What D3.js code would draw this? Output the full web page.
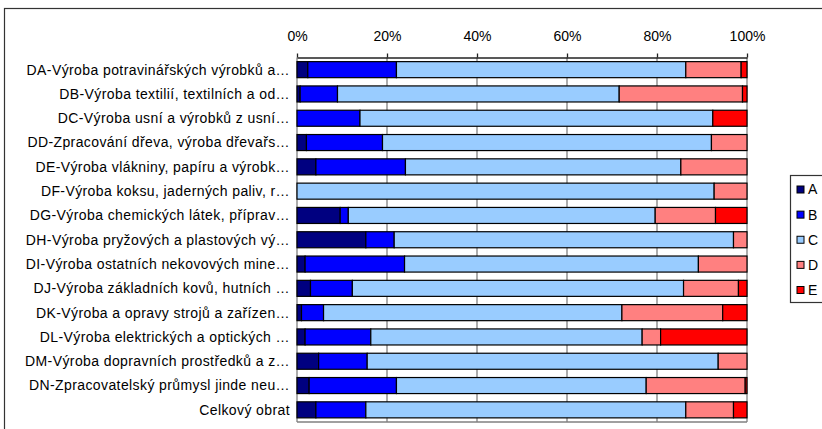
<!DOCTYPE html>
<html>
<head>
<meta charset="utf-8">
<script src="https://cdn.jsdelivr.net/npm/d3@7"></script>
<style>
  html, body { margin: 0; padding: 0; background: #fff; }
  svg { display: block; font-family: "Liberation Sans", Arial, sans-serif; }
</style>
</head>
<body>
<svg id="chart" width="822" height="429"></svg>
<script>
// Odvětví zpracovatelského průmyslu (kategorie)
const categories = [
  "DA-Výroba potravinářských výrobků a…",
  "DB-Výroba textilií, textilních a od…",
  "DC-Výroba usní a výrobků z usní…",
  "DD-Zpracování dřeva, výroba dřevařs…",
  "DE-Výroba vlákniny, papíru a výrobk…",
  "DF-Výroba koksu, jaderných paliv, r…",
  "DG-Výroba chemických látek, příprav…",
  "DH-Výroba pryžových a plastových vý…",
  "DI-Výroba ostatních nekovových mine…",
  "DJ-Výroba základních kovů, hutních …",
  "DK-Výroba a opravy strojů a zařízen…",
  "DL-Výroba elektrických a optických …",
  "DM-Výroba dopravních prostředků a z…",
  "DN-Zpracovatelský průmysl jinde neu…",
  "Celkový obrat"
];

// Podíly skupin A–E (%)
const seriesNames = ["A", "B", "C", "D", "E"];
const valuesA = [2.4, 0.7, 0.0, 2.1, 4.2, 0.0, 9.6, 15.3, 1.8, 3.0, 1.0, 1.8, 4.8, 2.7, 4.2];
const valuesB = [19.7, 8.3, 14.0, 16.9, 19.9, 0.0, 1.8, 6.3, 22.1, 9.3, 4.9, 14.6, 10.8, 19.4, 11.1];
const valuesC = [64.3, 62.6, 78.4, 73.1, 61.2, 92.7, 68.2, 75.4, 65.3, 73.6, 66.3, 60.3, 78.0, 55.5, 71.1];
const valuesD = [12.3, 27.4, 0.0, 7.9, 14.7, 7.3, 13.4, 3.0, 10.8, 12.2, 22.4, 4.1, 6.4, 22.0, 10.6];
const valuesE = [1.3, 1.0, 7.6, 0.0, 0.0, 0.0, 7.0, 0.0, 0.0, 1.9, 5.4, 19.2, 0.0, 0.4, 3.0];

const tickValues = [0, 20, 40, 60, 80, 100];
const tickLabels = ["0%", "20%", "40%", "60%", "80%", "100%"];

const colors = ["#000080", "#0000FF", "#99CCFF", "#FF8080", "#FF0000"];

const seriesValues = [valuesA, valuesB, valuesC, valuesD, valuesE];
const rows = categories.map((c, i) => {
  const r = { category: c };
  seriesNames.forEach((s, k) => { r[s] = seriesValues[k][i]; });
  return r;
});

const svg = d3.select("#chart");

// Vnější rámeček grafu
svg.append("rect")
  .attr("x", 4.5).attr("y", 8.5)
  .attr("width", 830).attr("height", 430)
  .attr("fill", "none")
  .attr("stroke", "#333").attr("stroke-width", 1.2);

const plot = { left: 297, right: 747, top: 57.5, bottom: 422 };

const x = d3.scaleLinear().domain([0, 100]).range([plot.left, plot.right]);
const y = d3.scaleBand().domain(categories).range([plot.top, plot.bottom]).paddingInner(0.34).paddingOuter(0.17);

// Svislé mřížky
svg.append("g").selectAll("line")
  .data(tickValues)
  .join("line")
  .attr("x1", d => x(d)).attr("x2", d => x(d))
  .attr("y1", plot.top).attr("y2", plot.bottom)
  .attr("stroke", "#808080").attr("stroke-width", 1.3);

// Spodní okraj oblasti grafu
svg.append("line")
  .attr("x1", plot.left).attr("x2", plot.right)
  .attr("y1", plot.bottom).attr("y2", plot.bottom)
  .attr("stroke", "#808080").attr("stroke-width", 1.3);

// Horní osa s procenty
const axis = d3.axisTop(x)
  .tickValues(tickValues)
  .tickFormat((d, i) => tickLabels[i])
  .tickSize(4).tickSizeOuter(0).tickPadding(13);
const ax = svg.append("g")
  .attr("transform", `translate(0,${plot.top})`)
  .call(axis);
ax.select(".domain").attr("stroke", "#222").attr("stroke-width", 1.3);
ax.selectAll(".tick line").attr("stroke", "#222").attr("stroke-width", 1.3);
ax.selectAll(".tick text")
  .attr("font-family", "Liberation Sans, Arial, sans-serif")
  .attr("font-size", 14).attr("fill", "#000");

// Skládané pruhy
const stack = d3.stack().keys(seriesNames)(rows);
svg.append("g").selectAll("g")
  .data(stack)
  .join("g")
  .attr("fill", (d, i) => colors[i])
  .selectAll("rect")
  .data(d => d.filter(s => s[1] - s[0] > 0))
  .join("rect")
  .attr("x", d => x(d[0]))
  .attr("width", d => x(d[1]) - x(d[0]))
  .attr("y", d => y(d.data.category))
  .attr("height", y.bandwidth())
  .attr("stroke", "#000").attr("stroke-width", 1.2);

// Popisky kategorií
svg.append("g").selectAll("text")
  .data(categories)
  .join("text")
  .attr("x", 290)
  .attr("y", d => y(d) + y.bandwidth() / 2)
  .attr("dy", "0.35em")
  .attr("text-anchor", "end")
  .attr("font-size", 14)
  .attr("letter-spacing", 0.4)
  .attr("fill", "#000")
  .text(d => d);

// Legenda
const legend = svg.append("g");
legend.append("rect")
  .attr("x", 790.5).attr("y", 175.5)
  .attr("width", 50).attr("height", 127)
  .attr("fill", "#fff")
  .attr("stroke", "#333").attr("stroke-width", 1.2);
const ly = d3.scalePoint().domain(seriesNames).range([189.5, 290]);
const items = legend.selectAll("g.item")
  .data(seriesNames)
  .join("g").attr("class", "item")
  .attr("transform", d => `translate(0,${ly(d)})`);
items.append("rect")
  .attr("x", 797).attr("y", -3.5)
  .attr("width", 7).attr("height", 7)
  .attr("fill", (d, i) => colors[i])
  .attr("stroke", "#000").attr("stroke-width", 1);
items.append("text")
  .attr("x", 808).attr("dy", "0.35em")
  .attr("font-size", 14)
  .text(d => d);
</script>
</body>
</html>
